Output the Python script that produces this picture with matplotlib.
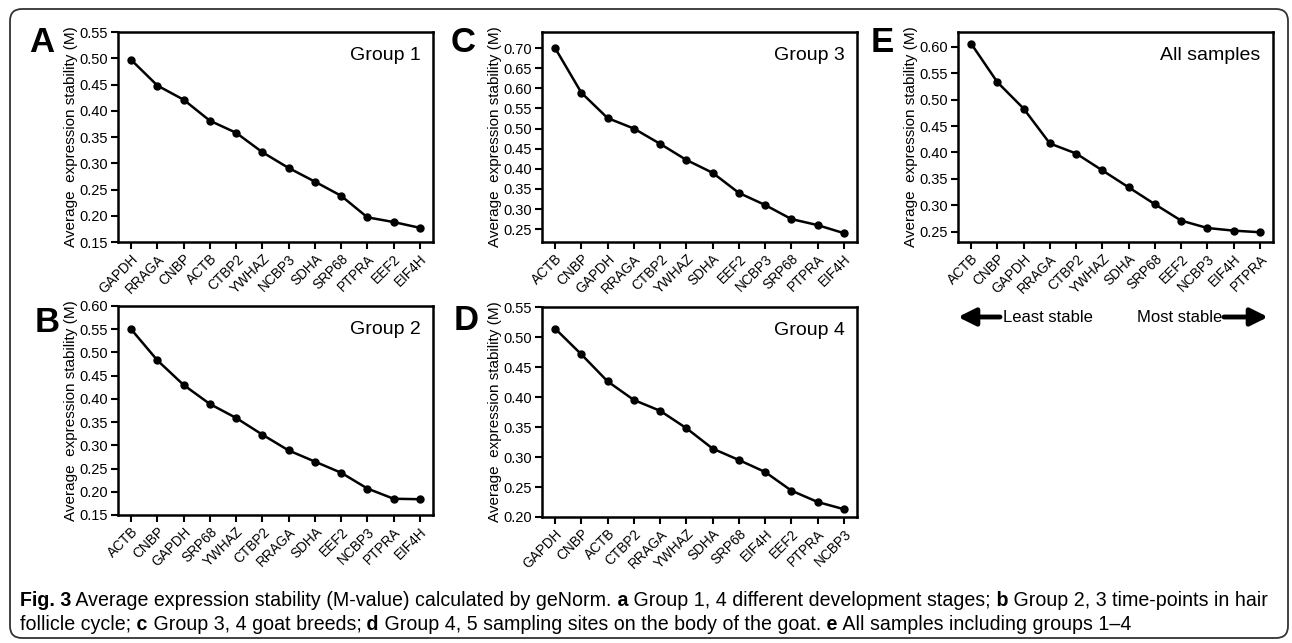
import numpy as np
import matplotlib
matplotlib.use("agg")
import matplotlib.pyplot as plt
from matplotlib.patches import FancyBboxPatch
from matplotlib.ticker import FormatStrFormatter

plt.rcParams["font.family"] = ["Liberation Sans", "DejaVu Sans"]

# geNorm M-values, genes ordered least -> most stable
genes_g1 = ["GAPDH", "RRAGA", "CNBP", "ACTB", "CTBP2", "YWHAZ", "NCBP3", "SDHA", "SRP68", "PTPRA", "EEF2", "EIF4H"]
m_g1 = [0.497, 0.448, 0.421, 0.381, 0.358, 0.321, 0.291, 0.265, 0.238, 0.197, 0.188, 0.177]

genes_g2 = ["ACTB", "CNBP", "GAPDH", "SRP68", "YWHAZ", "CTBP2", "RRAGA", "SDHA", "EEF2", "NCBP3", "PTPRA", "EIF4H"]
m_g2 = [0.550, 0.483, 0.430, 0.389, 0.359, 0.323, 0.289, 0.265, 0.241, 0.207, 0.185, 0.184]

genes_g3 = ["ACTB", "CNBP", "GAPDH", "RRAGA", "CTBP2", "YWHAZ", "SDHA", "EEF2", "NCBP3", "SRP68", "PTPRA", "EIF4H"]
m_g3 = [0.700, 0.589, 0.526, 0.500, 0.462, 0.422, 0.390, 0.340, 0.310, 0.275, 0.260, 0.240]

genes_g4 = ["GAPDH", "CNBP", "ACTB", "CTBP2", "RRAGA", "YWHAZ", "SDHA", "SRP68", "EIF4H", "EEF2", "PTPRA", "NCBP3"]
m_g4 = [0.514, 0.471, 0.426, 0.395, 0.377, 0.348, 0.314, 0.295, 0.275, 0.244, 0.225, 0.213]

genes_all = ["ACTB", "CNBP", "GAPDH", "RRAGA", "CTBP2", "YWHAZ", "SDHA", "SRP68", "EEF2", "NCBP3", "EIF4H", "PTPRA"]
m_all = [0.606, 0.533, 0.483, 0.417, 0.398, 0.366, 0.334, 0.302, 0.271, 0.257, 0.252, 0.249]

W, H = 1292, 643
fig = plt.figure(figsize=(W / 100, H / 100), dpi=100)


def px_box(left, top, right, bottom):
    return [left / W, 1 - bottom / H, (right - left) / W, (bottom - top) / H]


# letter, genes, values, title, ylim, yticks (start, stop), axes box in px, letter pos in px
panels = [
    ("A", genes_g1, m_g1, "Group 1", (0.15, 0.55), (0.15, 0.55), (118, 32, 433, 242), (42, 42)),
    ("B", genes_g2, m_g2, "Group 2", (0.15, 0.60), (0.15, 0.60), (118, 306, 433, 515), (47, 322)),
    ("C", genes_g3, m_g3, "Group 3", (0.218, 0.74), (0.25, 0.70), (542, 32, 857, 242), (463, 43)),
    ("D", genes_g4, m_g4, "Group 4", (0.20, 0.55), (0.20, 0.55), (542, 307, 857, 517), (466, 320)),
    ("E", genes_all, m_all, "All samples", (0.2305, 0.628), (0.25, 0.60), (958, 32, 1273, 242), (882, 43)),
]

for letter, genes, vals, title, ylim, yt, bx, lpos in panels:
    ax = fig.add_axes(px_box(*bx))
    x = np.arange(len(genes))
    ax.plot(x, vals, color="black", lw=1.8, marker="o", ms=5)
    ax.set_xlim(-0.5, len(genes) - 0.5)
    ax.set_ylim(*ylim)
    ax.set_yticks(np.arange(yt[0], yt[1] + 0.001, 0.05))
    ax.yaxis.set_major_formatter(FormatStrFormatter("%.2f"))
    ax.set_xticks(x)
    ax.set_xticklabels(genes, rotation=45, ha="right", rotation_mode="anchor")
    ax.tick_params(direction="out", length=5, width=1.5, pad=2)
    ax.tick_params(axis="y", labelsize=10.5)
    ax.tick_params(axis="x", labelsize=9.8)
    for sp in ax.spines.values():
        sp.set_linewidth(1.8)
    ax.set_ylabel("Average  expression stability (M)", fontsize=11, labelpad=1)
    ax.text(0.96, 0.93, title, transform=ax.transAxes, ha="right", va="top", fontsize=14)
    fig.text(lpos[0] / W, 1 - lpos[1] / H, letter, fontsize=25, fontweight="bold",
             ha="center", va="center")

# overlay axes in pixel coordinates for arrows, caption and frame
ov = fig.add_axes([0, 0, 1, 1])
ov.set_xlim(0, W)
ov.set_ylim(H, 0)
ov.axis("off")

ov.add_patch(FancyBboxPatch((10, 9), 1278, 629, boxstyle="round,pad=0,rounding_size=12",
                            fill=False, lw=1.3, ec="#333333"))

arrow = dict(arrowstyle="-|>", lw=3.5, color="black", mutation_scale=26, shrinkA=0, shrinkB=0)
ov.annotate("", xy=(958, 317), xytext=(1000, 317), arrowprops=arrow)
ov.annotate("", xy=(1268, 317), xytext=(1224, 317), arrowprops=arrow)
ov.text(1003, 317, "Least stable", fontsize=12, ha="left", va="center")
ov.text(1222, 317, "Most stable", fontsize=12, ha="right", va="center")

cap_font = ["Liberation Sans", "DejaVu Sans"]
line1 = [("Fig. 3", "bold"), (" Average expression stability (M-value) calculated by geNorm.", "normal"),
         (" a", "bold"), (" Group 1, 4 different development stages;", "normal"),
         (" b", "bold"), (" Group 2, 3 time-points in hair", "normal")]
line2 = [("follicle cycle;", "normal"), (" c", "bold"), (" Group 3, 4 goat breeds;", "normal"),
         (" d", "bold"), (" Group 4, 5 sampling sites on the body of the goat.", "normal"),
         (" e", "bold"), (" All samples including groups 1\u20134", "normal")]

cap_texts = []
last_of_line1 = None
for pieces, y in [(line1, 606), (line2, 630)]:
    prev = None
    for s, w in pieces:
        if prev is None:
            prev = ov.text(20, y, s, fontsize=14, fontweight=w, family=cap_font,
                           ha="left", va="baseline")
        else:
            prev = ov.annotate(s, xy=(1, 0), xycoords=prev, fontsize=14, fontweight=w,
                               family=cap_font, ha="left", va="bottom")
        cap_texts.append(prev)
    if last_of_line1 is None:
        last_of_line1 = prev

# shrink the caption so the first line ends where the reference's does
fig.canvas.draw()
right = last_of_line1.get_window_extent().x1
scale = (1270 - 20) / (right - 20)
for t in cap_texts:
    t.set_fontsize(14 * scale)

fig.savefig("out.png", dpi=100)
